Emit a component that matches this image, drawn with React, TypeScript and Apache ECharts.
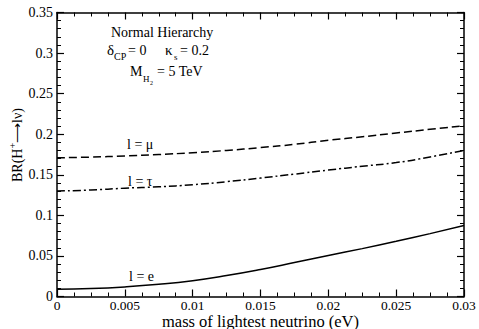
import React, { useEffect, useRef } from "react";
import * as echarts from "echarts";

const mass = [0, 0.0025, 0.005, 0.0075, 0.01, 0.0125, 0.015, 0.0175, 0.02, 0.0225, 0.025, 0.0275, 0.03];
const brE = [0.009, 0.0098, 0.0118, 0.0150, 0.0195, 0.0258, 0.0333, 0.0418, 0.0505, 0.0590, 0.0680, 0.0775, 0.0875];
const brMu = [0.1710, 0.1718, 0.1732, 0.1750, 0.1772, 0.1800, 0.1835, 0.1875, 0.1925, 0.1968, 0.2015, 0.2060, 0.2105];
const brTau = [0.1300, 0.1312, 0.1335, 0.1352, 0.1378, 0.1415, 0.1460, 0.1508, 0.1558, 0.1605, 0.1650, 0.1720, 0.1800];
const xTicks = ["0", "0.005", "0.01", "0.015", "0.02", "0.025", "0.03"];
const yTicks = ["0", "0.05", "0.1", "0.15", "0.2", "0.25", "0.3", "0.35"];

const FONT = "'Liberation Serif', 'Times New Roman', serif";

export default function App() {
  const ref = useRef<HTMLDivElement>(null);
  useEffect(() => {
    if (!ref.current) return;
    const chart = echarts.init(ref.current, undefined, { renderer: "svg" });
    const axisLineStyle = { color: "#000", width: 1.5 };
    const baseX = {
      type: "value",
      min: 0,
      max: 0.03,
      interval: 0.005,
      axisLine: { show: true, onZero: false, lineStyle: axisLineStyle },
      axisTick: { show: true, inside: true, length: 7, lineStyle: { color: "#000", width: 1.2 } },
      minorTick: { show: true, splitNumber: 4, length: 4, lineStyle: { color: "#000", width: 1 } },
      splitLine: { show: false },
    };
    const baseY = {
      type: "value",
      min: 0,
      max: 0.35,
      interval: 0.05,
      axisLine: { show: true, onZero: false, lineStyle: axisLineStyle },
      axisTick: { show: true, inside: true, length: 7, lineStyle: { color: "#000", width: 1.2 } },
      minorTick: { show: true, splitNumber: 5, length: 4, lineStyle: { color: "#000", width: 1 } },
      splitLine: { show: false },
    };
    const lineSeries = (data: number[], type: any) => ({
      type: "line",
      data: mass.map((m, i) => [m, data[i]]),
      smooth: true,
      showSymbol: false,
      lineStyle: { color: "#000", width: 1.5, type },
      xAxisIndex: 0,
      yAxisIndex: 0,
    });
    const txt = (x: number, y: number, text: string, size: number) => ({
      type: "text",
      x,
      y,
      style: { text, fontFamily: FONT, fontSize: size, fill: "#000", verticalAlign: "bottom" },
    });
    chart.setOption({
      animation: false,
      textStyle: { fontFamily: FONT, color: "#000" },
      grid: { left: 57, right: 15, top: 12.5, bottom: 32.5, containLabel: false, outerBoundsMode: "none" },
      xAxis: [
        {
          ...baseX,
          position: "bottom",
          name: "mass of lightest neutrino (eV)",
          nameLocation: "middle",
          nameGap: 16,
          nameMoveOverlap: false,
          nameTextStyle: { fontFamily: FONT, fontSize: 16.5, color: "#000", verticalAlign: "top" },
          axisLabel: {
            show: true,
            fontFamily: FONT,
            fontSize: 13.5,
            color: "#000",
            margin: 2,
            formatter: (v: number) => xTicks[Math.round(v / 0.005)] ?? "",
          },
        },
        { ...baseX, position: "top", axisLabel: { show: false } },
      ],
      yAxis: [
        {
          ...baseY,
          position: "left",
          axisLabel: {
            show: true,
            fontFamily: FONT,
            fontSize: 14,
            color: "#000",
            margin: 4,
            formatter: (v: number) => yTicks[Math.round(v / 0.05)] ?? "",
          },
        },
        { ...baseY, position: "right", axisLabel: { show: false } },
      ],
      series: [
        lineSeries(brMu, [8, 4]),
        lineSeries(brTau, [8, 3, 2, 3]),
        lineSeries(brE, "solid"),
      ],
      graphic: [
        {
          type: "text",
          x: 17,
          y: 145,
          rotation: Math.PI / 2,
          style: {
            text: "{a|BR(H}{sup|+}{a|⟶lν)}",
            fontFamily: FONT,
            fontSize: 14,
            fill: "#000",
            align: "center",
            verticalAlign: "middle",
            rich: {
              a: { fontFamily: FONT, fontSize: 14, fill: "#000", lineHeight: 20 },
              sup: { fontFamily: FONT, fontSize: 10, fill: "#000", verticalAlign: "top", lineHeight: 20 },
            },
          },
        },
        txt(111, 39, "Normal Hierarchy", 14),
        txt(107, 57, "δ", 15),
        txt(114, 61, "CP", 10),
        txt(128, 57, "= 0", 14),
        txt(165, 57, "κ", 15),
        txt(174, 61, "s", 9),
        txt(180, 57, "= 0.2", 14),
        txt(130, 78, "M", 14),
        txt(143, 83, "H", 9),
        txt(150, 86, "2", 6),
        txt(157, 78, "= 5 TeV", 14),
        txt(127, 151, "l = μ", 14),
        txt(128, 188, "l = τ", 14),
        txt(129, 283, "l = e", 14),
      ],
    });
    return () => chart.dispose();
  }, []);
  return <div ref={ref} style={{ width: 479, height: 329, position: "absolute", left: 0, top: 0 }} />;
}
